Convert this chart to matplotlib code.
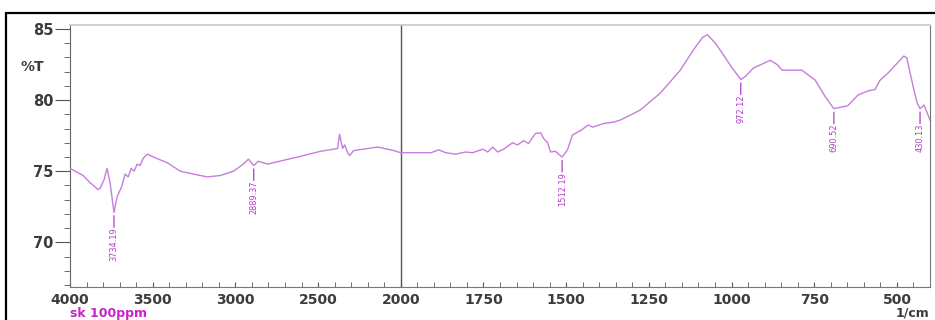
import numpy as np
import matplotlib
matplotlib.use("Agg")
import matplotlib.pyplot as plt
from matplotlib.patches import Rectangle
from matplotlib.ticker import FixedLocator

# FTIR spectrum "sk 100ppm"
wavenumber = [4000, 3921, 3879, 3848, 3830, 3818, 3794, 3776, 3758, 3734,
              3715, 3685, 3667, 3648, 3630, 3612, 3594, 3576, 3558, 3533,
              3515, 3455, 3412, 3333, 3212, 3170, 3091, 3012, 2952, 2921,
              2889, 2861, 2806, 2624, 2485, 2406, 2382, 2370, 2352, 2339,
              2321, 2309, 2285, 2139, 2042, 2000,
              1909, 1885, 1864, 1834, 1804, 1783, 1752, 1737, 1722, 1707,
              1689, 1662, 1647, 1629, 1614, 1593, 1577, 1568, 1556, 1547,
              1532, 1523, 1512, 1496, 1481, 1457, 1433, 1420, 1387, 1357,
              1336, 1297, 1276, 1215, 1155, 1116, 1088, 1073, 1049, 1025,
              998, 972, 959, 934, 883, 862, 847, 787, 747, 717,
              691, 649, 618, 587, 566, 551, 527, 479, 470, 451,
              439, 430, 418, 400]
transmittance = [75.2, 74.7, 74.2, 73.9, 73.7, 73.8, 74.4, 75.2, 74.2, 72.1,
                 73.2, 74.0, 74.8, 74.6, 75.2, 75.0, 75.5, 75.4, 75.9, 76.2,
                 76.1, 75.8, 75.6, 75.0, 74.7, 74.6, 74.7, 75.0, 75.5, 75.85,
                 75.4, 75.7, 75.5, 76.0, 76.4, 76.55, 76.6, 77.6, 76.6, 76.85,
                 76.3, 76.1, 76.45, 76.7, 76.45, 76.3,
                 76.3, 76.5, 76.3, 76.2, 76.35, 76.3, 76.55, 76.35, 76.7, 76.35,
                 76.55, 77.0, 76.85, 77.15, 76.95, 77.65, 77.7, 77.3, 77.0, 76.35,
                 76.4, 76.2, 76.0, 76.5, 77.55, 77.85, 78.25, 78.1, 78.35, 78.45,
                 78.6, 79.05, 79.3, 80.5, 82.1, 83.5, 84.4, 84.6, 84.0, 83.2,
                 82.25, 81.45, 81.65, 82.25, 82.8, 82.5, 82.1, 82.1, 81.4, 80.25,
                 79.4, 79.6, 80.35, 80.65, 80.75, 81.4, 81.9, 83.1, 82.95, 80.95,
                 79.8, 79.4, 79.65, 78.6]

peaks = [3734.19, 2889.37, 1512.19, 972.12, 690.52, 430.13]
peak_labels = ["3734.19", "2889.37", "1512.19", "972.12", "690.52", "430.13"]

x_major = [4000, 3500, 3000, 2500, 2000, 1750, 1500, 1250, 1000, 750, 500]
y_major = [70, 75, 80, 85]

TICK_GRAY = "#3c3c3c"
CURVE = "#c77ddb"
PEAK_COL = "#b23ac8"


# the spectrometer compresses 4000-2000 to half the scale of 2000-400
def fwd(x):
    x = np.asarray(x, dtype=float)
    return np.where(x > 2000, 2000 + (x - 2000) / 2.0, x)


def inv(u):
    u = np.asarray(u, dtype=float)
    return np.where(u > 2000, 2000 + (u - 2000) * 2.0, u)


fig = plt.figure(figsize=(9.35, 3.2), dpi=100)
ax = fig.add_axes([70 / 935, 1 - 287 / 320, 860 / 935, 262 / 320])

ax.set_xscale("function", functions=(fwd, inv))
ax.set_xlim(4000, 400)
ax.set_ylim(66.86, 85.28)

ax.plot(wavenumber, transmittance, color=CURVE, lw=1.0, zorder=3)
ax.axvline(2000, color="#555555", lw=1.0, zorder=2)

# peak picks: short leader under the minimum, value written upwards
wn_sorted = np.array(wavenumber[::-1], dtype=float)
tr_sorted = np.array(transmittance[::-1], dtype=float)
for pk, lab in zip(peaks, peak_labels):
    py = np.interp(pk, wn_sorted, tr_sorted)
    ax.annotate("", xy=(pk, py), xytext=(0, -15), textcoords="offset pixels",
                arrowprops=dict(arrowstyle="-", color=PEAK_COL, lw=0.9,
                                shrinkA=0, shrinkB=2.5))
    ax.annotate(lab, xy=(pk, py), xytext=(0, -15), textcoords="offset pixels",
                rotation=90, ha="center", va="top", color=PEAK_COL,
                fontsize=6.6, family="DejaVu Sans", fontstretch="condensed")

ax.xaxis.set_major_locator(FixedLocator(x_major))
ax.xaxis.set_minor_locator(FixedLocator(list(range(3900, 2000, -100)) +
                                        list(range(1950, 400, -50))))
ax.set_xticklabels([str(v) for v in x_major])
ax.set_yticks(y_major)
ax.yaxis.set_minor_locator(FixedLocator(range(67, 86)))

ax.tick_params(axis="x", which="both", direction="in", length=3.5,
               color="#555555", labelsize=10, labelcolor=TICK_GRAY, pad=4)
ax.tick_params(axis="y", which="major", direction="out", length=11,
               color="#555555", labelsize=10.5, labelcolor=TICK_GRAY, pad=1)
ax.tick_params(axis="y", which="minor", direction="out", length=4,
               color="#555555")
for t in ax.get_xticklabels() + ax.get_yticklabels():
    t.set_fontweight("bold")

ax.spines["top"].set_color("#c8c8c8")
ax.spines["top"].set_linewidth(1.2)
ax.spines["left"].set_color("#666666")
ax.spines["bottom"].set_color("#777777")
ax.spines["right"].set_color("#777777")

fig.text(32 / 935, 1 - 67 / 320, "%T", ha="center", va="center",
         fontsize=10, fontweight="bold", color=TICK_GRAY)
fig.text(70 / 935, 1 - 319.5 / 320, "sk 100ppm", ha="left", va="bottom",
         fontsize=9, fontweight="bold", color="#c822c8")
fig.text(929 / 935, 1 - 319.5 / 320, "1/cm", ha="right", va="bottom",
         fontsize=9, fontweight="bold", color=TICK_GRAY)

# outer frame of the screenshot
fig.patches.append(Rectangle((6 / 935, -0.2), 1.2, 1.2 - 13 / 320,
                             transform=fig.transFigure, fill=False,
                             edgecolor="black", lw=1.6))

fig.savefig("out.png", dpi=100)
